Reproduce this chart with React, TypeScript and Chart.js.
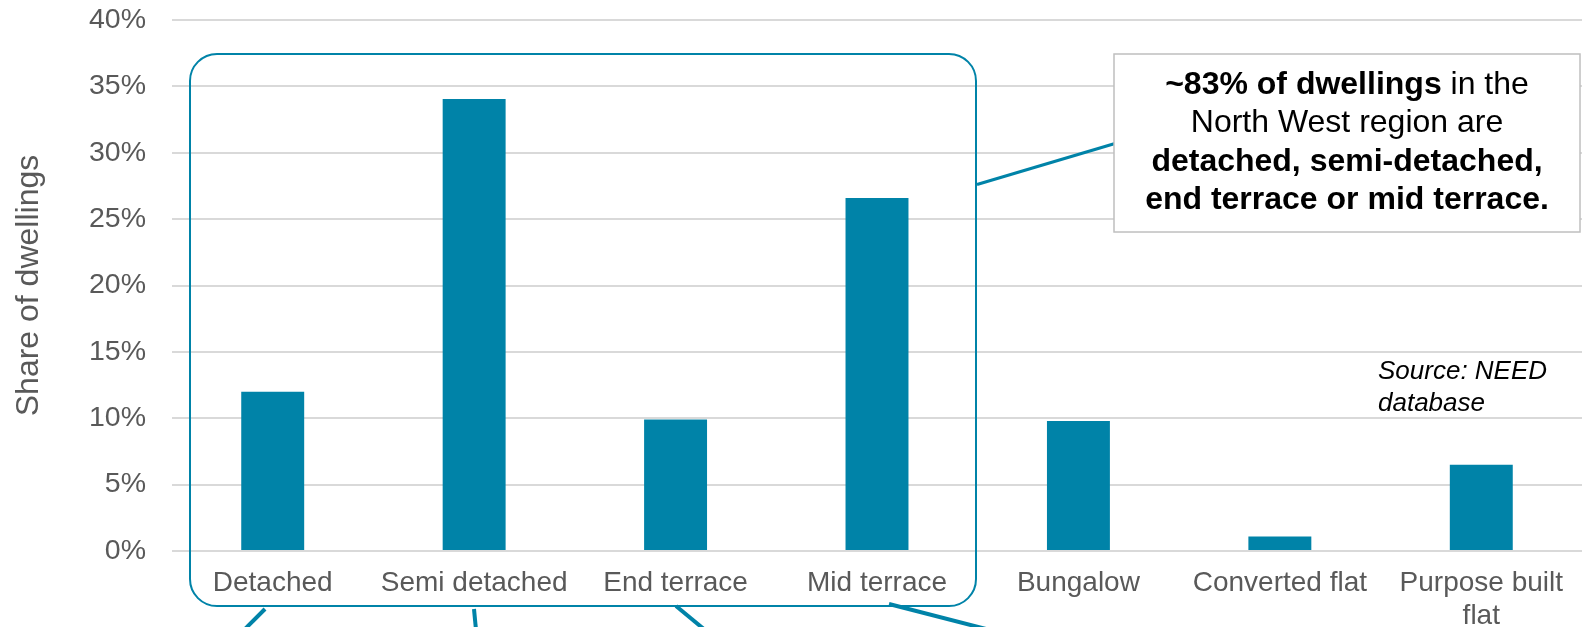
import { useEffect, useRef } from 'react';
import { Chart, registerables } from 'chart.js';

Chart.register(...registerables);

// ---- data ----
const categories: (string | string[])[] = [
  'Detached',
  'Semi detached',
  'End terrace',
  'Mid terrace',
  'Bungalow',
  'Converted flat',
  ['Purpose built', 'flat'],
];
const shareOfDwellings = [12.0, 34.05, 9.9, 26.6, 9.8, 1.1, 6.5];
const yMin = 0;
const yMax = 40;
const yStep = 5;
const yAxisTitle = 'Share of dwellings';

type Seg = { text: string; bold: boolean };
const calloutLines: Seg[][] = [
  [
    { text: '~83% of dwellings', bold: true },
    { text: ' in the', bold: false },
  ],
  [{ text: 'North West region are', bold: false }],
  [{ text: 'detached, semi-detached,', bold: true }],
  [{ text: 'end terrace or mid terrace.', bold: true }],
];
const sourceLines = ['Source: NEED', 'database'];

const TEAL = '#0083A8';
const GREY_TEXT = '#595959';
const FONT = '"Liberation Sans", Arial, Helvetica, sans-serif';

const annotationPlugin = {
  id: 'annotations',
  afterDraw(chart: any) {
    const ctx: CanvasRenderingContext2D = chart.ctx;
    ctx.save();

    // rounded group outline
    ctx.strokeStyle = TEAL;
    ctx.lineWidth = 2;
    ctx.beginPath();
    (ctx as any).roundRect(190, 54, 786, 552, 27);
    ctx.stroke();

    // connector lines leaving the group downward
    ctx.lineWidth = 4;
    ctx.lineCap = 'butt';
    const connectors = [
      [265, 609, 244, 630],
      [474, 609, 476, 630],
      [676, 606, 705, 630],
      [889, 604, 990, 630],
    ];
    connectors.forEach(([x1, y1, x2, y2]) => {
      ctx.beginPath();
      ctx.moveTo(x1, y1);
      ctx.lineTo(x2, y2);
      ctx.stroke();
    });

    // line from group to callout
    ctx.lineWidth = 3;
    ctx.beginPath();
    ctx.moveTo(977, 184.5);
    ctx.lineTo(1115, 143.5);
    ctx.stroke();

    // callout box
    ctx.fillStyle = '#ffffff';
    ctx.fillRect(1114, 54, 466, 178);
    ctx.strokeStyle = '#BFBFBF';
    ctx.lineWidth = 1.5;
    ctx.strokeRect(1114, 54, 466, 178);

    // callout text
    ctx.fillStyle = '#000000';
    ctx.textBaseline = 'middle';
    ctx.textAlign = 'left';
    const cx = 1347;
    const lineYs = [85, 123.5, 162, 200];
    calloutLines.forEach((segs, i) => {
      let total = 0;
      const widths = segs.map((s) => {
        ctx.font = `${s.bold ? 'bold ' : ''}32px ${FONT}`;
        const w = ctx.measureText(s.text).width;
        total += w;
        return w;
      });
      let x = cx - total / 2;
      segs.forEach((s, j) => {
        ctx.font = `${s.bold ? 'bold ' : ''}32px ${FONT}`;
        ctx.fillText(s.text, x, lineYs[i]);
        x += widths[j];
      });
    });

    // source note
    ctx.font = `italic 26px ${FONT}`;
    ctx.fillStyle = '#000000';
    sourceLines.forEach((t, i) => {
      ctx.fillText(t, 1378, 372 + i * 31.5);
    });

    ctx.restore();
  },
};

export default function App() {
  const ref = useRef<HTMLCanvasElement>(null);

  useEffect(() => {
    if (!ref.current) return;
    const chart = new Chart(ref.current, {
      type: 'bar',
      data: {
        labels: categories,
        datasets: [
          {
            data: shareOfDwellings,
            backgroundColor: TEAL,
            borderWidth: 0,
            barPercentage: 0.3125,
            categoryPercentage: 1,
          },
        ],
      },
      options: {
        responsive: false,
        animation: false,
        devicePixelRatio: 1,
        layout: { padding: { top: 20, right: 0, bottom: 0, left: 0 } },
        plugins: {
          legend: { display: false },
          tooltip: { enabled: false },
        },
        scales: {
          x: {
            grid: { display: false, drawTicks: false },
            border: { display: false },
            ticks: {
              color: GREY_TEXT,
              font: { family: FONT, size: 28 },
              padding: 15,
              autoSkip: false,
              maxRotation: 0,
              minRotation: 0,
            },
            afterFit: (scale: any) => {
              scale.height = 76;
              scale.paddingLeft = 0;
              scale.paddingRight = 0;
            },
          },
          y: {
            min: yMin,
            max: yMax,
            grid: { color: '#D9D9D9', lineWidth: 2, drawTicks: false },
            border: { display: false },
            ticks: {
              stepSize: yStep,
              color: GREY_TEXT,
              font: { family: FONT, size: 28.5 },
              padding: 26,
              callback: (v: any) => `${v}%`,
            },
            title: {
              display: true,
              text: yAxisTitle,
              color: GREY_TEXT,
              font: { family: FONT, size: 32 },
              padding: { top: 10, bottom: 0 },
            },
            afterFit: (scale: any) => {
              scale.width = 172;
              scale.paddingTop = 0;
              scale.paddingBottom = 0;
            },
          },
        },
      },
      plugins: [annotationPlugin],
    });
    return () => chart.destroy();
  }, []);

  return (
    <div
      style={{
        position: 'fixed',
        left: 0,
        top: 0,
        width: 1582,
        height: 627,
        background: '#ffffff',
      }}
    >
      <canvas ref={ref} width={1582} height={627} />
    </div>
  );
}
